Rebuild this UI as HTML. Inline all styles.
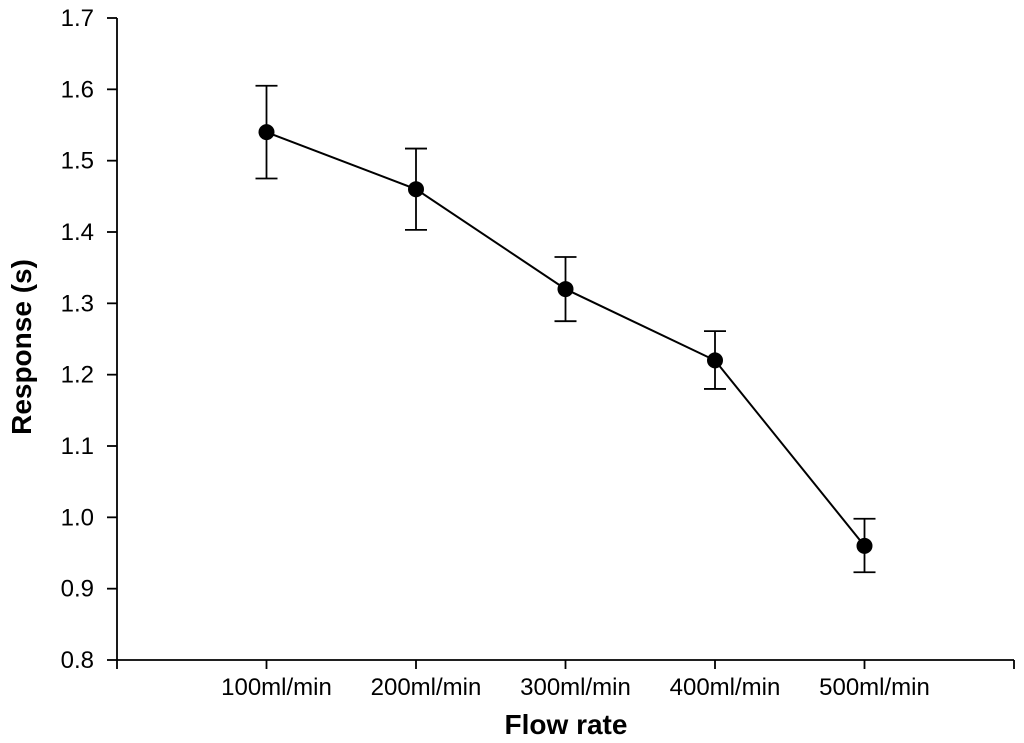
<!DOCTYPE html>
<html><head><meta charset="utf-8"><style>
html,body{margin:0;padding:0;background:#fff;}
svg{display:block;font-family:"Liberation Sans",Arial,sans-serif;}
</style></head><body>
<svg id="chart" width="1024" height="743" viewBox="0 0 1024 743"></svg>
<script>
const categories = ["100ml/min","200ml/min","300ml/min","400ml/min","500ml/min"];
const values = [1.54, 1.46, 1.32, 1.22, 0.96];
const errUpper = [1.605, 1.517, 1.365, 1.261, 0.998];
const errLower = [1.475, 1.403, 1.275, 1.180, 0.923];
const yTicks = ["0.8","0.9","1.0","1.1","1.2","1.3","1.4","1.5","1.6","1.7"];

const NS = "http://www.w3.org/2000/svg";
const svg = document.getElementById("chart");
const X0 = 117, X1 = 1014, Y0 = 660, Y1 = 18, YMIN = 0.8, YMAX = 1.7;
const slot = (X1 - X0) / (categories.length + 1);
const xs = i => X0 + slot * (i + 1);
const ys = v => Y0 - (v - YMIN) / (YMAX - YMIN) * (Y0 - Y1);
function mk(tag, attrs, parent) {
  const e = document.createElementNS(NS, tag);
  for (const k in attrs) e.setAttribute(k, attrs[k]);
  (parent || svg).appendChild(e);
  return e;
}
let g = mk("g", {stroke:"#000","stroke-width":1.8});


mk("line", {x1:X0,y1:Y1,x2:X0,y2:Y0}, g);
mk("line", {x1:X0,y1:Y0,x2:X1,y2:Y0}, g);
yTicks.forEach(t => {
  const y = ys(parseFloat(t));
  mk("line", {x1:X0-10,y1:y,x2:X0,y2:y}, g);
  const tx = mk("text", {x:94,y:y+8,"text-anchor":"end","font-size":24,fill:"#000",stroke:"none"});
  tx.textContent = t;
  
  
});
for (let i = 0; i <= categories.length + 1; i++) {
  const x = X0 + slot * i;
  mk("line", {x1:x,y1:Y0,x2:x,y2:Y0+9}, g);
}
categories.forEach((c, i) => {
  const tx = mk("text", {x:xs(i)+10,y:695,"text-anchor":"middle","font-size":24,fill:"#000"});
  tx.textContent = c;
  
  
});
const pts = values.map((v, i) => xs(i) + "," + ys(v)).join(" ");
const pl = mk("polyline", {points:pts,fill:"none",stroke:"#000","stroke-width":2});


values.forEach((v, i) => {
  const x = xs(i), eg = mk("g", {stroke:"#000","stroke-width":1.8});
  
  
  mk("line", {x1:x,y1:ys(errUpper[i]),x2:x,y2:ys(errLower[i])}, eg);
  mk("line", {x1:x-11,y1:ys(errUpper[i]),x2:x+11,y2:ys(errUpper[i])}, eg);
  mk("line", {x1:x-11,y1:ys(errLower[i]),x2:x+11,y2:ys(errLower[i])}, eg);
  const c = mk("circle", {cx:x,cy:ys(v),r:8,fill:"#000"});
  
  
});
const xt = mk("text", {x:566,y:734,"text-anchor":"middle","font-size":28,"font-weight":"bold",fill:"#000"});
xt.textContent = "Flow rate";


const yt = mk("text", {x:0,y:0,"text-anchor":"middle","font-size":28,"font-weight":"bold",fill:"#000",transform:"translate(31,347) rotate(-90)"});
yt.textContent = "Response (s)";


</script>
</body></html>
